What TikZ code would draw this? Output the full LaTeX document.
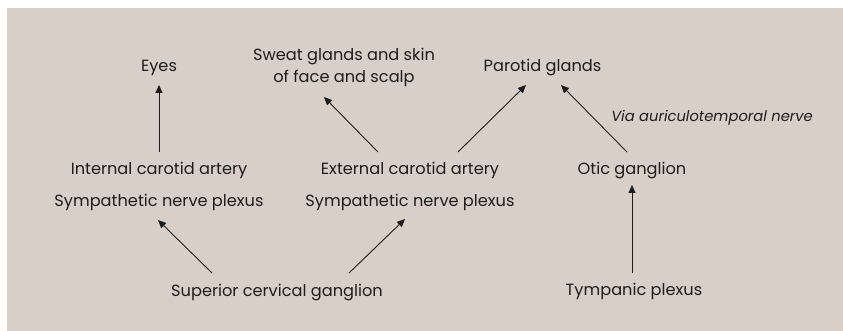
\documentclass[tikz,border=0pt]{standalone}
\usepackage{fontspec}
\setmainfont{Poppins}
\usetikzlibrary{arrows.meta,calc}
\definecolor{bg}{RGB}{216,208,200}
\definecolor{ink}{RGB}{30,28,28}
\begin{document}
\begin{tikzpicture}[x=1pt,y=-1pt,
  lbl/.style={anchor=base,inner sep=0pt,text=ink,font=\fontsize{16.2}{22}\selectfont},
  itl/.style={lbl,font=\fontsize{14.7}{22}\selectfont\itshape},
  arr/.style={draw=ink,line width=0.9pt,-{Triangle[length=8pt,width=7pt]}}
]
\useasboundingbox (0,0) rectangle (843,331);
\fill[white] (0,0) rectangle (843,331);
\fill[bg] (7,8) rectangle (843,331);
% nodes
\node[lbl] (eyes) at (159,72) {Eyes};
\node[lbl,align=center] (sweat) at (344,83) {Sweat glands and skin\\of face and scalp};
\node[lbl] (parotid) at (542.5,72) {Parotid glands};
\node[itl] (via) at (712,122) {Via auriculotemporal nerve};
\node[lbl] (int) at (159,175) {Internal carotid artery};
\node[lbl] (lsym) at (159,207) {Sympathetic nerve plexus};
\node[lbl] (ext) at (410,175) {External carotid artery};
\node[lbl] (rsym) at (410,207) {Sympathetic nerve plexus};
\node[lbl] (otic) at (632,175) {Otic ganglion};
\node[lbl] (sup) at (277,296) {Superior cervical ganglion};
\node[lbl] (tymp) at (634,295) {Tympanic plexus};
% connectors
\draw[arr] ($(int.base)+(0,-23)$) -- ($(eyes.base)+(0,13)$);
\draw[arr] ($(sup.base)+(-65,-23)$) -- ($(lsym.base)+(-1,13)$);
\draw[arr] ($(sup.base)+(72,-23)$) -- ($(rsym.base)+(-5,12)$);
\draw[arr] ($(ext.base)+(-32,-23)$) -- ($(sweat.base)+(-20,14)$);
\draw[arr] ($(ext.base)+(48,-23)$) -- ($(parotid.base)+(-16.5,13)$);
\draw[arr] ($(otic.base)+(-5,-23)$) -- ($(parotid.base)+(18.5,13)$);
\draw[arr] ($(tymp.base)+(-2,-22)$) -- ($(otic.base)+(0,10)$);
\end{tikzpicture}
\end{document}
